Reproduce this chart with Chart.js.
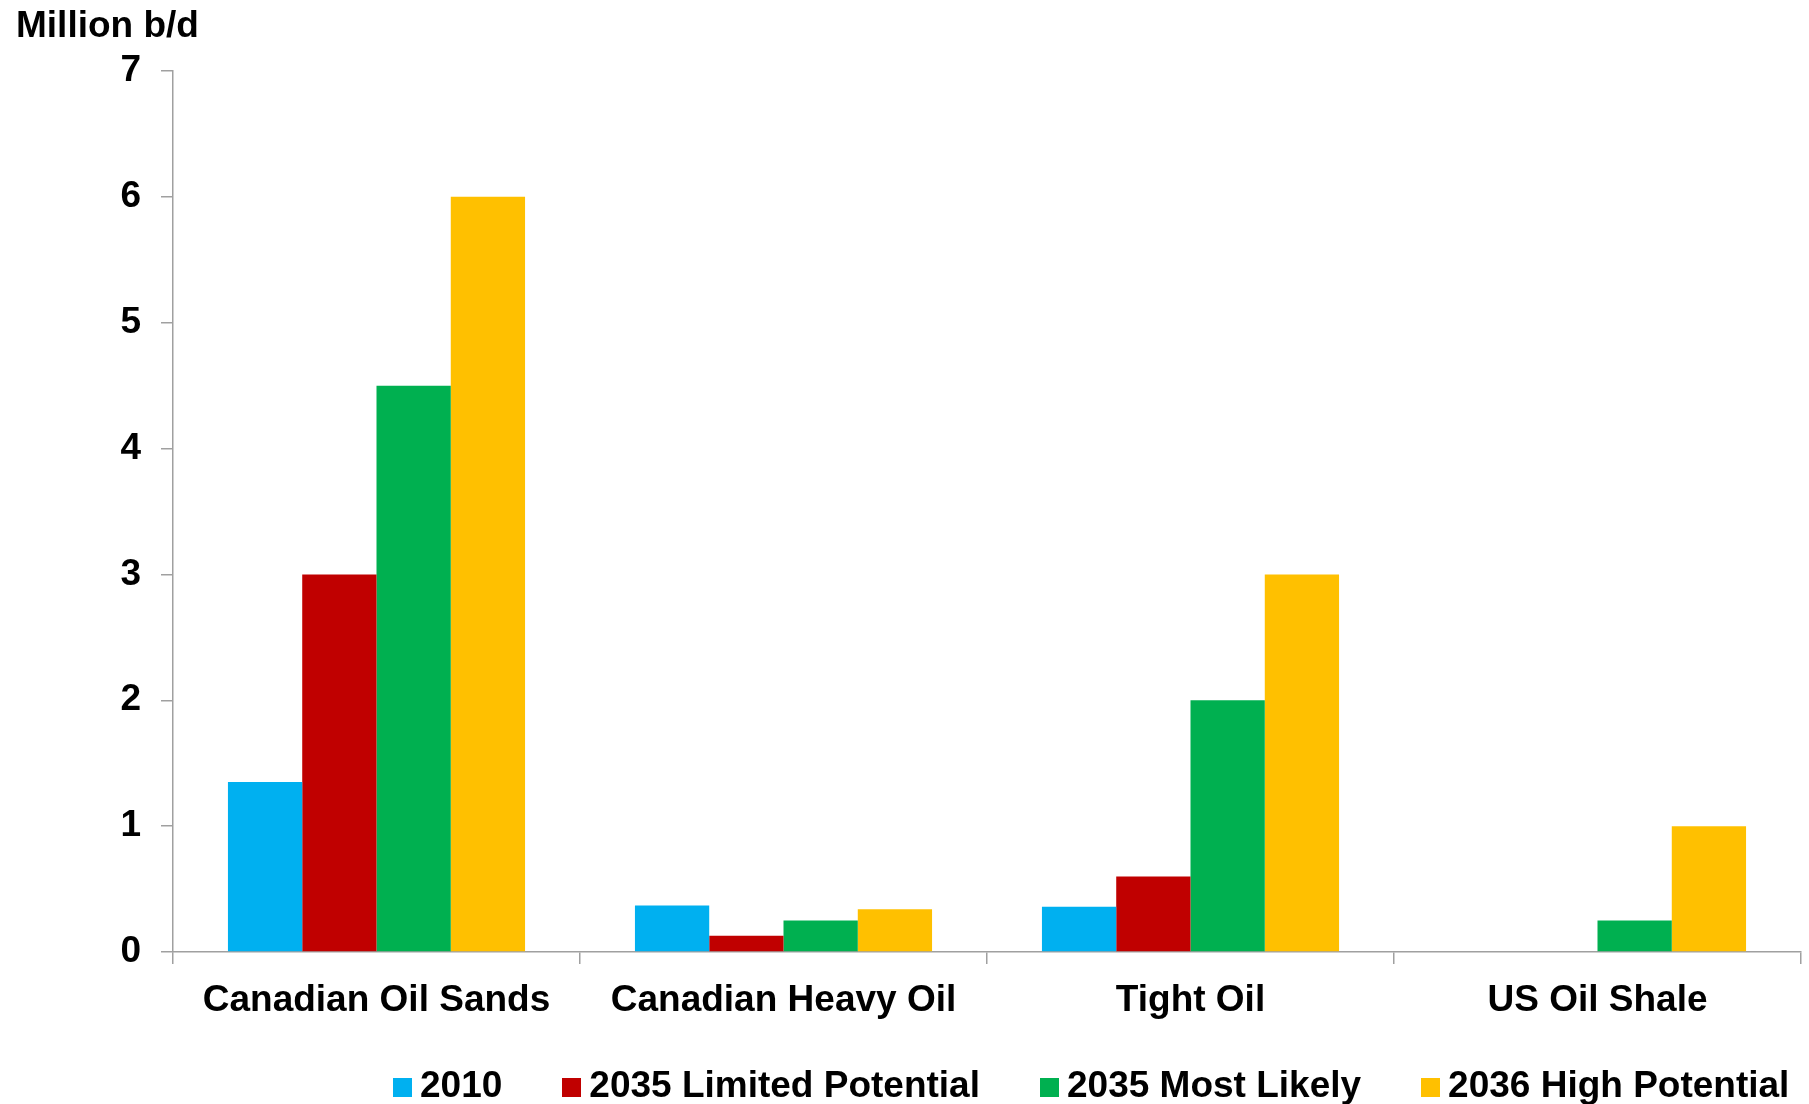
<!DOCTYPE html>
<html>
<head>
<meta charset="utf-8">
<script src="https://cdn.jsdelivr.net/npm/chart.js@4/dist/chart.umd.min.js"></script>
<style>
  html, body { margin: 0; padding: 0; background: #fff; }
  #wrap { position: relative; width: 1809px; height: 1104px; font-family: "Liberation Sans", Arial, sans-serif; }
  canvas { position: absolute; left: 0; top: 0; }
  #title { position: absolute; left: 16px; top: 3px; font-size: 37px; font-weight: bold; color: #000; line-height: 44px; }
  #legend { position: absolute; left: 393px; top: 1063px; display: flex; align-items: center; gap: 60px; font-size: 37px; font-weight: bold; color: #000; line-height: 44px; }
  .item { display: flex; align-items: center; }
  .box { width: 19px; height: 19px; margin-right: 8px; margin-top: 4px; }
</style>
</head>
<body>
<div id="wrap">
  <canvas id="c" width="1809" height="1104"></canvas>
  <div id="title">Million b/d</div>
  <div id="legend"></div>
</div>
<script>
const categories = ["Canadian Oil Sands", "Canadian Heavy Oil", "Tight Oil", "US Oil Shale"];
const seriesNames = ["2010", "2035 Limited Potential", "2035 Most Likely", "2036 High Potential"];
const s2010 = [1.35, 0.37, 0.36, 0];
const s2035Limited = [3.0, 0.13, 0.6, 0];
const s2035Likely = [4.5, 0.25, 2.0, 0.25];
const s2036High = [6.0, 0.34, 3.0, 1.0];
const yTicks = [0, 1, 2, 3, 4, 5, 6, 7];
const colors = ["#00B0F0", "#C00000", "#00B050", "#FFC000"];

const seriesValues = [s2010, s2035Limited, s2035Likely, s2036High];
const datasets = seriesNames.map((n, i) => ({
  label: n,
  data: seriesValues[i],
  backgroundColor: colors[i],
  borderWidth: 0,
  barPercentage: 1.0,
  categoryPercentage: 0.73
}));

const legend = document.getElementById('legend');
seriesNames.forEach((n, i) => {
  const it = document.createElement('div');
  it.className = 'item';
  const b = document.createElement('div');
  b.className = 'box';
  b.style.background = colors[i];
  const t = document.createElement('span');
  t.textContent = n;
  it.appendChild(b); it.appendChild(t);
  legend.appendChild(it);
});

const axisColor = '#a0a0a0';
const font = { family: '"Liberation Sans", Arial, sans-serif', size: 37, weight: 'bold' };

new Chart(document.getElementById('c'), {
  type: 'bar',
  data: { labels: categories, datasets },
  options: {
    responsive: false,
    animation: false,
    devicePixelRatio: 1,
    layout: { padding: { top: 71, right: 8, bottom: 0, left: 0 } },
    plugins: { legend: { display: false }, title: { display: false }, tooltip: { enabled: false } },
    scales: {
      x: {
        grid: { display: true, drawOnChartArea: false, drawTicks: true, tickLength: 12, color: axisColor, lineWidth: 1.5, offset: true },
        border: { display: true, color: axisColor, width: 1.5 },
        ticks: { color: '#000', font, padding: 15, maxRotation: 0, autoSkip: false },
        afterFit: s => { s.height = 152; }
      },
      y: {
        min: 0, max: 7,
        afterBuildTicks: s => { s.ticks = yTicks.map(v => ({ value: v })); },
        grid: { display: true, drawOnChartArea: false, drawTicks: true, tickLength: 12, color: axisColor, lineWidth: 1.5 },
        border: { display: true, color: axisColor, width: 1.5 },
        ticks: { color: '#000', font, padding: 20 },
        afterFit: s => { s.width = 173; }
      }
    }
  }
});
</script>
</body>
</html>
